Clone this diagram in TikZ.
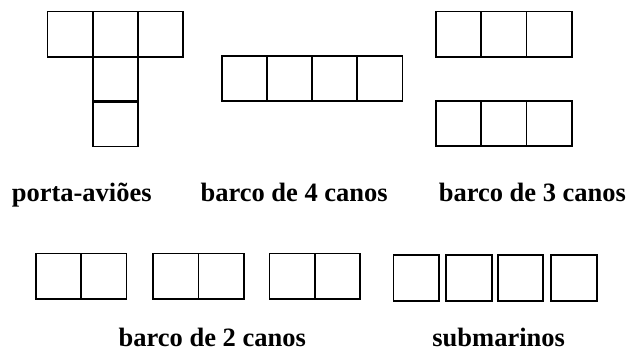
\documentclass[tikz,border=0pt]{standalone}
\usepackage{fontspec}
\setmainfont{Liberation Serif}
\begin{document}
\begin{tikzpicture}[x=1pt,y=-1pt,
  cell/.style={draw=black,line width=1.7pt,minimum size=45.3pt,inner sep=0pt,outer sep=0pt},
  sub/.style={draw=black,line width=1.7pt,minimum size=45.5pt,inner sep=0pt,outer sep=0pt},
  lbl/.style={anchor=base,inner sep=0pt,font=\fontsize{26.5}{30}\selectfont\bfseries}]
\useasboundingbox[fill=white] (0,0) rectangle (629,352);
% porta-avioes
\node[cell] (pa1) at (70,34.3) {};
\node[cell] (pa2) at (115.3,34.3) {};
\node[cell] (pa3) at (160.6,34.3) {};
\node[cell] (pa4) at (115.3,79.2) {};
\node[cell] (pa5) at (115.3,123.8) {};
% barco de 4 canos
\node[cell] (b41) at (244.3,78.7) {};
\node[cell] (b42) at (289.4,78.7) {};
\node[cell] (b43) at (334.6,78.7) {};
\node[cell] (b44) at (379.7,78.7) {};
% barco de 3 canos
\node[cell] (b3a1) at (458.4,34.3) {};
\node[cell] (b3a2) at (503.7,34.3) {};
\node[cell] (b3a3) at (549,34.3) {};
\node[cell] (b3b1) at (458.4,123.7) {};
\node[cell] (b3b2) at (503.7,123.7) {};
\node[cell] (b3b3) at (549,123.7) {};
% barcos de 2 canos
\node[cell] (b2a1) at (58.3,276.3) {};
\node[cell] (b2a2) at (103.7,276.3) {};
\node[cell] (b2b1) at (175.9,276.3) {};
\node[cell] (b2b2) at (221.2,276.3) {};
\node[cell] (b2c1) at (292,276.3) {};
\node[cell] (b2c2) at (337.3,276.3) {};
% submarinos
\node[sub] (s1) at (416.2,278) {};
\node[sub] (s2) at (469,278) {};
\node[sub] (s3) at (520.5,278) {};
\node[sub] (s4) at (574,278) {};
% labels
\node[lbl] (lpa) at (81.7,202) {porta-aviões};
\node[lbl] (lb4) at (294.2,202) {barco de 4 canos};
\node[lbl] (lb3) at (532.4,202) {barco de 3 canos};
\node[lbl] (lb2) at (212.3,347) {barco de 2 canos};
\node[lbl] (lsub) at (498.7,347) {submarinos};
\end{tikzpicture}
\end{document}
